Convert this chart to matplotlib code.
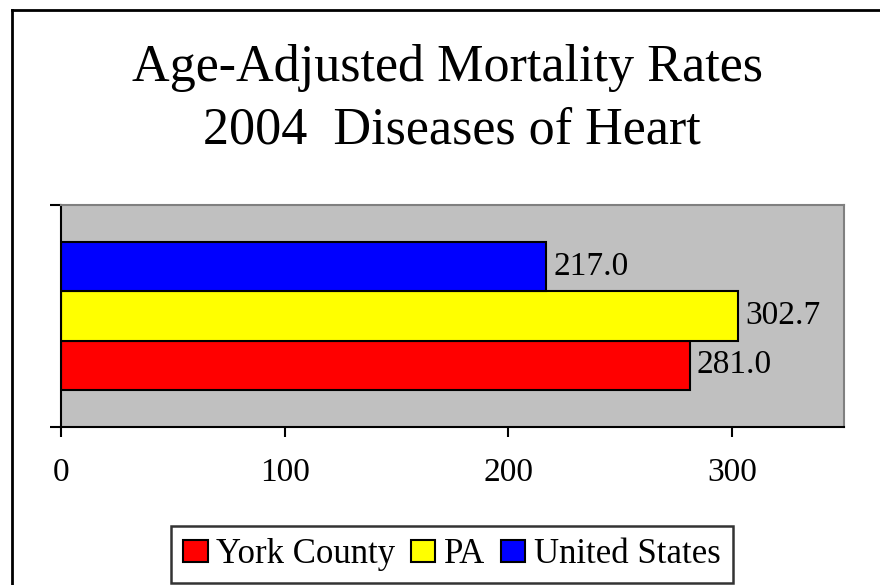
import matplotlib.pyplot as plt
import numpy as np
from matplotlib.lines import Line2D

# datos del grafico
series = ['York County', 'PA', 'United States']
rates = [281.0, 302.7, 217.0]
colors = ['#FF0000', '#FFFF00', '#0000FF']
xticks = [0, 100, 200, 300]
title_lines = ['Age-Adjusted Mortality Rates', '2004  Diseases of Heart']

plt.rcParams['font.family'] = ['Liberation Serif', 'DejaVu Serif']

W, H = 880, 585
fig = plt.figure(figsize=(W / 100, H / 100), dpi=100, facecolor='white')

# area del grafico (coordenadas en pixeles del original)
left, right, top, bottom = 61, 844, 205, 427
ax = fig.add_axes([left / W, 1 - bottom / H, (right - left) / W, (bottom - top) / H])
ax.set_facecolor('#C0C0C0')

pos = np.arange(len(series)) - 1
bars = ax.barh(pos, rates, height=1.0, color=colors, edgecolor='black', linewidth=1.5)
ax.bar_label(bars, labels=[f'{v:.1f}' for v in rates], padding=5, fontsize=24)

lim = 1.5 + 0.765
ax.set_ylim(-lim, lim)
ax.set_xlim(0, 350)
ax.set_xticks(xticks)
ax.set_xticklabels([str(t) for t in xticks], fontsize=24)
ax.set_yticks([-lim, lim])
ax.set_yticklabels(['', ''])
ax.tick_params(axis='x', direction='out', length=7, width=1.5, pad=15)
ax.tick_params(axis='y', direction='out', length=8, width=1.5)

for s in ['left', 'bottom']:
    ax.spines[s].set_linewidth(1.5)
    ax.spines[s].set_color('black')
for s in ['top', 'right']:
    ax.spines[s].set_linewidth(1.5)
    ax.spines[s].set_color('#808080')

# titulo
fig.text(448 / W, 1 - 81 / H, title_lines[0], ha='center', va='baseline', fontsize=37.5)
fig.text(452 / W, 1 - 143 / H, title_lines[1], ha='center', va='baseline', fontsize=37.5)

# leyenda
handles = [plt.Rectangle((0, 0), 1, 1, facecolor=c, edgecolor='black', linewidth=1.5)
           for c in colors]
leg = fig.legend(handles, series, loc='center', bbox_to_anchor=(452 / W, 1 - 554.5 / H),
                 ncol=3, fontsize=25, frameon=True, fancybox=False,
                 handlelength=0.7, handleheight=0.6, handletextpad=0.25,
                 columnspacing=0.45, borderpad=0.35, borderaxespad=0)
leg.get_frame().set_edgecolor('black')
leg.get_frame().set_linewidth(1.8)

# borde exterior
fig.add_artist(Line2D([12 / W, 12 / W], [0, 1 - 10 / H], color='black', lw=2,
                      transform=fig.transFigure))
fig.add_artist(Line2D([12 / W, 1], [1 - 10 / H, 1 - 10 / H], color='black', lw=2,
                      transform=fig.transFigure))

fig.savefig('out.png', dpi=100)
